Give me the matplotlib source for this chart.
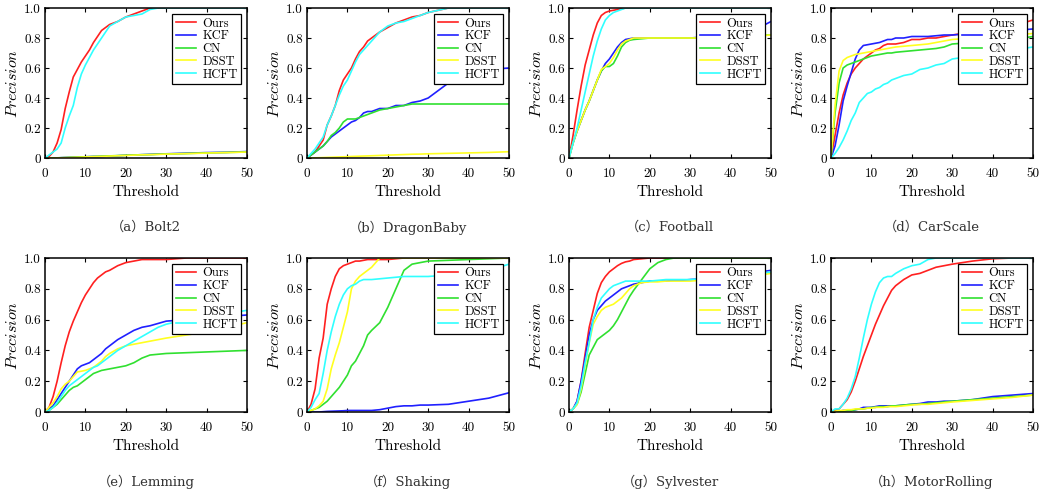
import matplotlib
matplotlib.use("Agg")
import matplotlib.pyplot as plt

plt.rcParams['mathtext.fontset'] = 'cm'

# thresholds shared by every curve
thr = [0, 1, 2, 3, 4, 5, 6, 7, 8, 9, 10, 11, 12, 13, 14, 15, 16,
       18, 20, 22, 24, 26, 28, 30, 35, 40, 45, 50]

methods = ['Ours', 'KCF', 'CN', 'DSST', 'HCFT']
colors = ['#ff2020', '#2020ff', '#30e030', '#ffff20', '#30ffff']

# (a) Bolt2
bolt2_ours = [0, 0.01, 0.04, 0.1, 0.19, 0.33, 0.44, 0.54, 0.59, 0.64, 0.68, 0.72, 0.77, 0.81, 0.85, 0.87, 0.89,
              0.91, 0.94, 0.96, 0.98, 1, 1, 1, 1, 1, 1, 1]
bolt2_kcf = [0, 0, 0, 0, 0.002, 0.003, 0.004, 0.005, 0.006, 0.007, 0.008, 0.009, 0.01, 0.01, 0.011, 0.012, 0.013,
             0.015, 0.018, 0.02, 0.022, 0.024, 0.026, 0.028, 0.032, 0.036, 0.038, 0.043]
bolt2_cn = [0, 0, 0, 0.001, 0.002, 0.003, 0.004, 0.005, 0.006, 0.007, 0.008, 0.009, 0.01, 0.011, 0.012, 0.013, 0.014,
            0.016, 0.018, 0.02, 0.022, 0.023, 0.025, 0.027, 0.03, 0.034, 0.037, 0.04]
bolt2_dsst = [0, 0, 0, 0, 0.001, 0.002, 0.003, 0.004, 0.005, 0.006, 0.007, 0.008, 0.009, 0.01, 0.011, 0.012, 0.013,
              0.015, 0.017, 0.019, 0.021, 0.022, 0.024, 0.026, 0.029, 0.033, 0.036, 0.04]
bolt2_hcft = [0, 0.02, 0.04, 0.06, 0.1, 0.2, 0.28, 0.35, 0.47, 0.56, 0.62, 0.67, 0.72, 0.76, 0.8, 0.84, 0.88,
              0.91, 0.94, 0.95, 0.96, 0.99, 1, 1, 1, 1, 1, 1]

# (b) DragonBaby
dragon_ours = [0, 0.02, 0.04, 0.08, 0.12, 0.22, 0.28, 0.35, 0.45, 0.52, 0.56, 0.6, 0.66, 0.71, 0.74, 0.78, 0.8,
               0.84, 0.87, 0.9, 0.92, 0.94, 0.95, 0.97, 1, 1, 1, 1]
dragon_kcf = [0, 0.02, 0.04, 0.06, 0.08, 0.11, 0.14, 0.16, 0.18, 0.2, 0.22, 0.24, 0.25, 0.27, 0.3, 0.31, 0.31,
              0.33, 0.33, 0.35, 0.35, 0.37, 0.38, 0.4, 0.5, 0.57, 0.59, 0.6]
dragon_cn = [0, 0.02, 0.04, 0.06, 0.08, 0.11, 0.15, 0.17, 0.2, 0.24, 0.26, 0.26, 0.26, 0.27, 0.28, 0.29, 0.3,
             0.32, 0.33, 0.34, 0.35, 0.36, 0.36, 0.36, 0.36, 0.36, 0.36, 0.36]
dragon_dsst = [0, 0, 0.001, 0.002, 0.003, 0.004, 0.005, 0.006, 0.007, 0.008, 0.009, 0.01, 0.011, 0.012, 0.013, 0.014, 0.015,
               0.017, 0.019, 0.021, 0.023, 0.025, 0.026, 0.028, 0.031, 0.034, 0.037, 0.042]
dragon_hcft = [0, 0.03, 0.06, 0.1, 0.14, 0.22, 0.28, 0.35, 0.42, 0.48, 0.52, 0.58, 0.64, 0.69, 0.72, 0.75, 0.78,
               0.84, 0.88, 0.9, 0.91, 0.93, 0.95, 0.97, 1, 1, 1, 1]

# (c) Football
football_ours = [0, 0.15, 0.32, 0.48, 0.62, 0.72, 0.82, 0.9, 0.95, 0.97, 0.98, 0.985, 0.99, 0.995, 1, 1, 1,
                 1, 1, 1, 1, 1, 1, 1, 1, 1, 1, 1]
football_kcf = [0, 0.1, 0.18, 0.25, 0.32, 0.38, 0.45, 0.52, 0.58, 0.63, 0.66, 0.7, 0.74, 0.77, 0.79, 0.795, 0.8,
                0.8, 0.8, 0.8, 0.8, 0.8, 0.8, 0.8, 0.81, 0.82, 0.84, 0.91]
football_cn = [0, 0.1, 0.18, 0.25, 0.32, 0.38, 0.45, 0.52, 0.58, 0.61, 0.61, 0.63, 0.68, 0.74, 0.77, 0.785, 0.79,
               0.795, 0.8, 0.8, 0.8, 0.8, 0.8, 0.8, 0.8, 0.81, 0.815, 0.82]
football_dsst = [0, 0.1, 0.18, 0.25, 0.32, 0.38, 0.45, 0.52, 0.59, 0.61, 0.63, 0.67, 0.72, 0.76, 0.78, 0.79, 0.8,
                 0.8, 0.8, 0.8, 0.8, 0.8, 0.8, 0.8, 0.8, 0.81, 0.81, 0.82]
football_hcft = [0, 0.1, 0.2, 0.32, 0.44, 0.56, 0.68, 0.78, 0.86, 0.92, 0.95, 0.97, 0.98, 0.99, 1, 1, 1,
                 1, 1, 1, 1, 1, 1, 1, 1, 1, 1, 1]

# (d) CarScale
carscale_ours = [0, 0.15, 0.3, 0.42, 0.5, 0.56, 0.6, 0.63, 0.66, 0.68, 0.7, 0.72, 0.73, 0.75, 0.76, 0.76, 0.76,
                 0.77, 0.79, 0.79, 0.8, 0.8, 0.81, 0.82, 0.84, 0.86, 0.88, 0.92]
carscale_kcf = [0, 0.08, 0.22, 0.38, 0.48, 0.57, 0.66, 0.72, 0.75, 0.755, 0.76, 0.765, 0.77, 0.78, 0.79, 0.79, 0.8,
                0.8, 0.81, 0.81, 0.81, 0.815, 0.82, 0.82, 0.83, 0.84, 0.85, 0.86]
carscale_cn = [0, 0.3, 0.5, 0.6, 0.62, 0.63, 0.64, 0.65, 0.66, 0.67, 0.68, 0.685, 0.69, 0.695, 0.7, 0.7, 0.705,
               0.71, 0.715, 0.72, 0.725, 0.73, 0.74, 0.76, 0.77, 0.78, 0.79, 0.81]
carscale_dsst = [0, 0.35, 0.58, 0.65, 0.67, 0.68, 0.69, 0.695, 0.7, 0.705, 0.71, 0.715, 0.72, 0.725, 0.73, 0.735, 0.74,
                 0.745, 0.75, 0.755, 0.76, 0.77, 0.78, 0.79, 0.8, 0.81, 0.82, 0.83]
carscale_hcft = [0, 0.03, 0.07, 0.12, 0.18, 0.25, 0.3, 0.37, 0.4, 0.43, 0.44, 0.46, 0.47, 0.49, 0.5, 0.52, 0.53,
                 0.55, 0.56, 0.59, 0.6, 0.62, 0.63, 0.66, 0.68, 0.7, 0.72, 0.74]

# (e) Lemming
lemming_ours = [0, 0.03, 0.1, 0.2, 0.32, 0.43, 0.52, 0.59, 0.65, 0.71, 0.76, 0.8, 0.84, 0.87, 0.89, 0.91, 0.92,
                0.95, 0.97, 0.98, 0.99, 0.99, 0.99, 0.99, 1, 1, 1, 1]
lemming_kcf = [0, 0.02, 0.04, 0.08, 0.12, 0.16, 0.2, 0.24, 0.28, 0.3, 0.31, 0.32, 0.34, 0.36, 0.38, 0.41, 0.43,
               0.47, 0.5, 0.53, 0.55, 0.56, 0.575, 0.59, 0.6, 0.61, 0.62, 0.63]
lemming_cn = [0, 0.01, 0.03, 0.05, 0.08, 0.11, 0.14, 0.16, 0.17, 0.19, 0.21, 0.23, 0.25, 0.26, 0.27, 0.275, 0.28,
              0.29, 0.3, 0.32, 0.35, 0.37, 0.375, 0.38, 0.385, 0.39, 0.395, 0.4]
lemming_dsst = [0, 0.03, 0.06, 0.1, 0.15, 0.18, 0.2, 0.23, 0.26, 0.265, 0.27, 0.28, 0.29, 0.31, 0.33, 0.36, 0.38,
                0.41, 0.43, 0.44, 0.45, 0.46, 0.47, 0.48, 0.5, 0.52, 0.55, 0.58]
lemming_hcft = [0, 0.01, 0.03, 0.06, 0.1, 0.14, 0.17, 0.19, 0.21, 0.23, 0.25, 0.27, 0.29, 0.3, 0.32, 0.34, 0.36,
                0.4, 0.43, 0.46, 0.49, 0.52, 0.55, 0.57, 0.6, 0.62, 0.64, 0.66]

# (f) Shaking
shaking_ours = [0, 0.05, 0.15, 0.35, 0.48, 0.7, 0.8, 0.88, 0.93, 0.95, 0.96, 0.97, 0.98, 0.98, 0.985, 0.99, 0.99,
                0.99, 0.99, 0.995, 1, 1, 1, 1, 1, 1, 1, 1]
shaking_kcf = [0, 0, 0, 0, 0.002, 0.004, 0.005, 0.006, 0.007, 0.008, 0.01, 0.01, 0.01, 0.01, 0.01, 0.01, 0.01,
               0.015, 0.025, 0.035, 0.04, 0.04, 0.045, 0.045, 0.05, 0.07, 0.09, 0.125]
shaking_cn = [0, 0.01, 0.02, 0.03, 0.05, 0.07, 0.1, 0.13, 0.16, 0.2, 0.24, 0.3, 0.33, 0.38, 0.43, 0.5, 0.53,
              0.58, 0.68, 0.8, 0.92, 0.96, 0.97, 0.98, 0.985, 0.99, 0.995, 1]
shaking_dsst = [0, 0.01, 0.02, 0.04, 0.07, 0.15, 0.28, 0.37, 0.45, 0.55, 0.65, 0.8, 0.85, 0.88, 0.9, 0.92, 0.94,
                1, 1, 1, 1, 1, 1, 1, 1, 1, 1, 1]
shaking_hcft = [0, 0.03, 0.08, 0.12, 0.25, 0.4, 0.52, 0.62, 0.7, 0.76, 0.8, 0.82, 0.83, 0.85, 0.86, 0.86, 0.86,
                0.865, 0.87, 0.875, 0.88, 0.88, 0.88, 0.88, 0.89, 0.9, 0.92, 0.96]

# (g) Sylvester
sylvester_ours = [0, 0.02, 0.07, 0.2, 0.38, 0.55, 0.66, 0.77, 0.84, 0.88, 0.91, 0.93, 0.95, 0.965, 0.975, 0.98, 0.99,
                  0.995, 1, 1, 1, 1, 1, 1, 1, 1, 1, 1]
sylvester_kcf = [0, 0.02, 0.07, 0.2, 0.35, 0.5, 0.6, 0.66, 0.69, 0.72, 0.74, 0.76, 0.78, 0.8, 0.81, 0.82, 0.83,
                 0.84, 0.85, 0.85, 0.85, 0.855, 0.855, 0.86, 0.87, 0.88, 0.9, 0.92]
sylvester_cn = [0, 0.02, 0.05, 0.13, 0.25, 0.37, 0.42, 0.47, 0.49, 0.51, 0.53, 0.56, 0.6, 0.65, 0.7, 0.75, 0.79,
                0.86, 0.93, 0.97, 0.99, 1, 1, 1, 1, 1, 1, 1]
sylvester_dsst = [0, 0.02, 0.05, 0.15, 0.3, 0.45, 0.57, 0.62, 0.66, 0.68, 0.69, 0.7, 0.72, 0.74, 0.77, 0.8, 0.82,
                  0.84, 0.845, 0.845, 0.85, 0.85, 0.85, 0.85, 0.86, 0.87, 0.88, 0.9]
sylvester_hcft = [0, 0.02, 0.06, 0.17, 0.32, 0.45, 0.6, 0.68, 0.74, 0.77, 0.8, 0.82, 0.83, 0.84, 0.85, 0.85, 0.85,
                  0.85, 0.85, 0.855, 0.86, 0.86, 0.86, 0.86, 0.87, 0.88, 0.89, 0.91]

# (h) MotorRolling
motor_ours = [0, 0.01, 0.02, 0.05, 0.08, 0.13, 0.2, 0.28, 0.36, 0.43, 0.5, 0.57, 0.63, 0.69, 0.74, 0.79, 0.82,
              0.86, 0.89, 0.9, 0.92, 0.94, 0.95, 0.96, 0.98, 0.995, 1, 1]
motor_kcf = [0, 0, 0.005, 0.01, 0.01, 0.01, 0.015, 0.02, 0.03, 0.03, 0.03, 0.035, 0.04, 0.04, 0.04, 0.04, 0.04,
             0.045, 0.05, 0.055, 0.065, 0.065, 0.07, 0.07, 0.08, 0.1, 0.11, 0.12]
motor_cn = [0, 0, 0.005, 0.005, 0.01, 0.01, 0.015, 0.02, 0.02, 0.025, 0.03, 0.03, 0.035, 0.035, 0.035, 0.04, 0.04,
            0.045, 0.05, 0.05, 0.055, 0.06, 0.065, 0.07, 0.08, 0.09, 0.1, 0.11]
motor_dsst = [0, 0.005, 0.01, 0.01, 0.015, 0.015, 0.02, 0.02, 0.02, 0.025, 0.025, 0.03, 0.03, 0.03, 0.035, 0.035, 0.035,
              0.04, 0.045, 0.05, 0.05, 0.055, 0.06, 0.065, 0.075, 0.085, 0.095, 0.11]
motor_hcft = [0, 0.02, 0.02, 0.05, 0.09, 0.15, 0.23, 0.35, 0.48, 0.6, 0.7, 0.78, 0.84, 0.87, 0.88, 0.88, 0.9,
              0.93, 0.95, 0.96, 0.99, 1, 1, 1, 1, 1, 1, 1]

captions = ['（a）Bolt2', '（b）DragonBaby', '（c）Football', '（d）CarScale',
            '（e）Lemming', '（f）Shaking', '（g）Sylvester', '（h）MotorRolling']
panels = [
    [bolt2_ours, bolt2_kcf, bolt2_cn, bolt2_dsst, bolt2_hcft],
    [dragon_ours, dragon_kcf, dragon_cn, dragon_dsst, dragon_hcft],
    [football_ours, football_kcf, football_cn, football_dsst, football_hcft],
    [carscale_ours, carscale_kcf, carscale_cn, carscale_dsst, carscale_hcft],
    [lemming_ours, lemming_kcf, lemming_cn, lemming_dsst, lemming_hcft],
    [shaking_ours, shaking_kcf, shaking_cn, shaking_dsst, shaking_hcft],
    [sylvester_ours, sylvester_kcf, sylvester_cn, sylvester_dsst, sylvester_hcft],
    [motor_ours, motor_kcf, motor_cn, motor_dsst, motor_hcft],
]

W, H = 1048, 495
fig = plt.figure(figsize=(W / 100, H / 100), dpi=100)

lefts = [45, 307, 569, 831]
rows = [(8, 158), (258, 412)]

for i, (caption, series) in enumerate(zip(captions, panels)):
    r, c = divmod(i, 4)
    top, bot = rows[r]
    ax = fig.add_axes([lefts[c] / W, 1 - bot / H, 202 / W, (bot - top) / H])
    for name, col, vals in zip(methods, colors, series):
        ax.plot(thr, vals, color=col, lw=1.2, label=name)
    ax.set_xlim(0, 50)
    ax.set_ylim(0, 1)
    ax.set_xticks([0, 10, 20, 30, 40, 50])
    ax.set_xticklabels(['0', '10', '20', '30', '40', '50'], fontfamily='cmr10', fontsize=9.5)
    ax.set_yticks([0, 0.2, 0.4, 0.6, 0.8, 1.0])
    ax.set_yticklabels(['0', '0.2', '0.4', '0.6', '0.8', '1.0'], fontfamily='cmr10', fontsize=9.5)
    ax.tick_params(direction='in', top=True, right=True, length=3, width=0.8)
    ax.tick_params(axis='x', pad=7)
    ax.tick_params(axis='y', pad=3)
    for sp in ax.spines.values():
        sp.set_linewidth(1.1)
    ax.set_xlabel('Threshold', fontfamily='cmr10', fontsize=11, labelpad=4)
    ax.set_ylabel('$Precision$', fontsize=11.5, labelpad=3)
    leg = ax.legend(loc='upper right', prop={'family': 'cmr10', 'size': 9},
                    frameon=True, fancybox=False, framealpha=1, edgecolor='black',
                    handlelength=1.6, handletextpad=0.5, labelspacing=0.05,
                    borderpad=0.3, borderaxespad=0.45)
    leg.get_frame().set_linewidth(0.9)
    ax.annotate(caption, xy=(0.5, 0), xycoords='axes fraction', xytext=(0, -50),
                textcoords='offset points', ha='center', va='center', fontsize=9.5,
                color='#333333', family=['DejaVu Serif', 'Noto Sans CJK SC'])

fig.savefig('out.png', dpi=100)
